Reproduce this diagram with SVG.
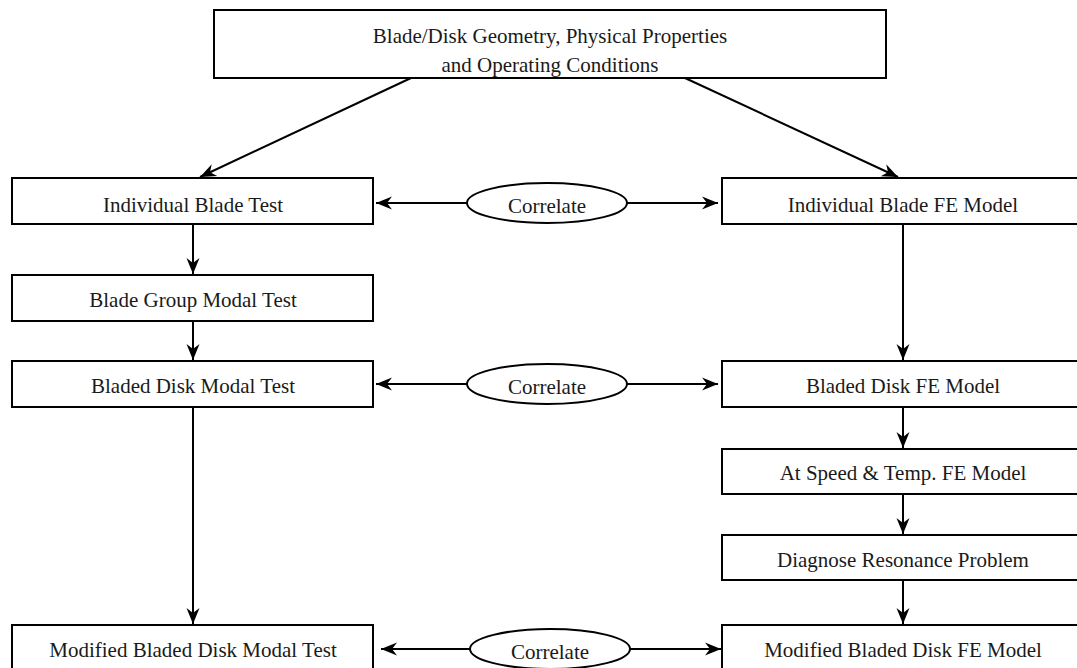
<svg xmlns="http://www.w3.org/2000/svg" width="1077" height="668" viewBox="0 0 1077 668">
  <style>
    .box { fill: #fff; stroke: #000; stroke-width: 2; }
    .ell { fill: #fff; stroke: #000; stroke-width: 2; }
    .lbl { font-family: "Liberation Serif", "Times New Roman", serif; font-size: 21px; fill: #1a1a1a; text-anchor: middle; }
    .conn { fill: none; stroke: #000; stroke-width: 2; marker-end: url(#ah); }
  </style>
  <defs>
    <marker id="ah" markerUnits="userSpaceOnUse" viewBox="-17 -8 18 16" refX="0" refY="0" markerWidth="18" markerHeight="16" orient="auto">
      <path d="M0,0 L-16,-6.5 L-11,0 L-16,6.5 Z" fill="#000"/>
    </marker>
    <clipPath id="topclip"><rect x="214" y="10" width="672" height="67"/></clipPath>
  </defs>
  <rect width="1077" height="668" fill="#fff"/>

  <g id="connectors">
    <line class="conn" x1="411" y1="78" x2="200" y2="177"/>
    <line class="conn" x1="685" y1="78" x2="898" y2="177"/>
    <line class="conn" x1="193" y1="224" x2="193" y2="274"/>
    <line class="conn" x1="193" y1="321" x2="193" y2="360"/>
    <line class="conn" x1="193" y1="407" x2="193" y2="624"/>
    <line class="conn" x1="903" y1="224" x2="903" y2="360"/>
    <line class="conn" x1="903" y1="407" x2="903" y2="448"/>
    <line class="conn" x1="903" y1="494" x2="903" y2="534"/>
    <line class="conn" x1="903" y1="580" x2="903" y2="624"/>
    <line class="conn" x1="467" y1="203" x2="376" y2="203"/>
    <line class="conn" x1="627" y1="203" x2="718" y2="203"/>
    <line class="conn" x1="467" y1="384" x2="376" y2="384"/>
    <line class="conn" x1="627" y1="384" x2="718" y2="384"/>
    <line class="conn" x1="470" y1="649" x2="381" y2="649"/>
    <line class="conn" x1="630" y1="649" x2="721" y2="649"/>
  </g>

  <g id="top">
    <rect class="box" x="214" y="10" width="672" height="68"/>
    <g clip-path="url(#topclip)">
      <text class="lbl" x="550" y="43">Blade/Disk Geometry, Physical Properties</text>
      <text class="lbl" x="550" y="72">and Operating Conditions</text>
    </g>
  </g>

  <g id="blade-test">
    <rect class="box" x="12" y="178" width="361" height="46"/>
    <text class="lbl" x="193" y="212">Individual Blade Test</text>
  </g>
  <g id="group-test">
    <rect class="box" x="12" y="275" width="361" height="46"/>
    <text class="lbl" x="193" y="307">Blade Group Modal Test</text>
  </g>
  <g id="disk-test">
    <rect class="box" x="12" y="361" width="361" height="46"/>
    <text class="lbl" x="193" y="393">Bladed Disk Modal Test</text>
  </g>
  <g id="mod-test">
    <rect class="box" x="12" y="625" width="361" height="46"/>
    <text class="lbl" x="193" y="657">Modified Bladed Disk Modal Test</text>
  </g>

  <g id="blade-fe">
    <rect class="box" x="722" y="178" width="362" height="46"/>
    <text class="lbl" x="903" y="212">Individual Blade FE Model</text>
  </g>
  <g id="disk-fe">
    <rect class="box" x="722" y="361" width="362" height="46"/>
    <text class="lbl" x="903" y="393">Bladed Disk FE Model</text>
  </g>
  <g id="speed-fe">
    <rect class="box" x="722" y="449" width="362" height="45"/>
    <text class="lbl" x="903" y="480">At Speed &amp; Temp. FE Model</text>
  </g>
  <g id="diagnose">
    <rect class="box" x="722" y="535" width="362" height="45"/>
    <text class="lbl" x="903" y="567">Diagnose Resonance Problem</text>
  </g>
  <g id="mod-fe">
    <rect class="box" x="722" y="625" width="362" height="46"/>
    <text class="lbl" x="903" y="657">Modified Bladed Disk FE Model</text>
  </g>

  <g id="correlate-1">
    <ellipse class="ell" cx="547" cy="203" rx="80" ry="20"/>
    <text class="lbl" x="547" y="213">Correlate</text>
  </g>
  <g id="correlate-2">
    <ellipse class="ell" cx="547" cy="384" rx="80" ry="20"/>
    <text class="lbl" x="547" y="394">Correlate</text>
  </g>
  <g id="correlate-3">
    <ellipse class="ell" cx="550" cy="649" rx="80" ry="20"/>
    <text class="lbl" x="550" y="659">Correlate</text>
  </g>
</svg>
